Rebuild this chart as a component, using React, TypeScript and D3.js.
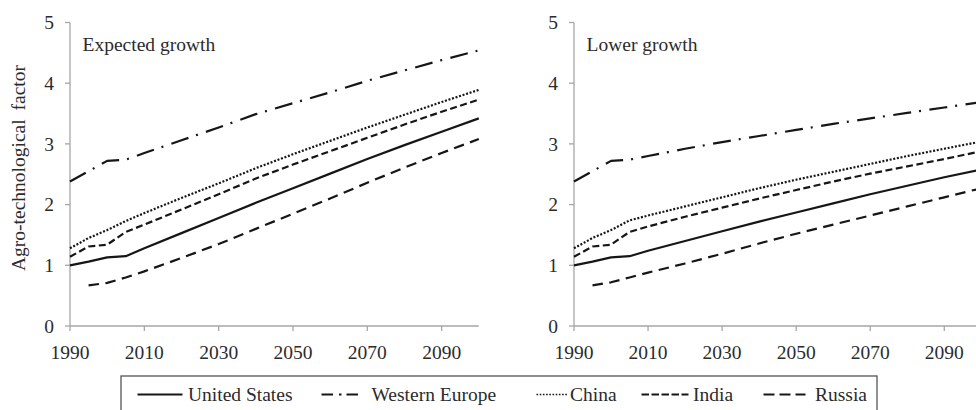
import React from "react";
import * as d3 from "d3";

// Model years shared by every series
const years = [1990, 1995, 2000, 2005, 2010, 2020, 2030, 2040, 2050, 2060, 2070, 2080, 2090, 2100];

const seriesNames = ["United States", "Western Europe", "China", "India", "Russia"];

// Expected growth scenario
const expectedUS = [1.0, 1.06, 1.13, 1.15, 1.28, 1.53, 1.78, 2.03, 2.27, 2.51, 2.75, 2.98, 3.2, 3.42];
const expectedWE = [2.38, 2.55, 2.72, 2.74, 2.85, 3.06, 3.27, 3.49, 3.67, 3.85, 4.04, 4.21, 4.38, 4.54];
const expectedChina = [1.28, 1.45, 1.58, 1.73, 1.86, 2.11, 2.35, 2.6, 2.83, 3.05, 3.27, 3.48, 3.69, 3.89];
const expectedIndia = [1.14, 1.31, 1.34, 1.55, 1.67, 1.92, 2.17, 2.43, 2.66, 2.88, 3.1, 3.32, 3.53, 3.73];
const expectedRussia = [null, 0.67, 0.71, 0.8, 0.9, 1.12, 1.35, 1.6, 1.85, 2.1, 2.36, 2.61, 2.85, 3.08];

// Lower growth scenario
const lowerUS = [1.0, 1.06, 1.13, 1.15, 1.24, 1.4, 1.56, 1.72, 1.87, 2.02, 2.17, 2.31, 2.45, 2.58];
const lowerWE = [2.38, 2.55, 2.72, 2.74, 2.8, 2.92, 3.03, 3.13, 3.23, 3.33, 3.42, 3.51, 3.6, 3.69];
const lowerChina = [1.28, 1.45, 1.58, 1.74, 1.82, 1.97, 2.12, 2.27, 2.41, 2.54, 2.67, 2.8, 2.92, 3.04];
const lowerIndia = [1.14, 1.31, 1.34, 1.55, 1.64, 1.8, 1.95, 2.1, 2.24, 2.38, 2.51, 2.63, 2.75, 2.88];
const lowerRussia = [null, 0.67, 0.72, 0.8, 0.88, 1.03, 1.19, 1.36, 1.52, 1.67, 1.82, 1.97, 2.12, 2.27];

const xTicks = [1990, 2010, 2030, 2050, 2070, 2090];
const yTicks = [0, 1, 2, 3, 4, 5];

const panelTitles = ["Expected growth", "Lower growth"];
const yAxisTitle = "Agro-technological factor";

const panels = [
  { title: panelTitles[0], series: [expectedUS, expectedWE, expectedChina, expectedIndia, expectedRussia], x0: 70, x1: 478.8 },
  { title: panelTitles[1], series: [lowerUS, lowerWE, lowerChina, lowerIndia, lowerRussia], x0: 574, x1: 981.3 },
];

// Stroke patterns for each country, in plot and in legend
const plotDash = ["none", "18,8,2,8.5", "2,1.7", "7,3.5", "10.5,6.5"];
const legendDash = ["none", "11.5,6,2.5,5", "1.6,1.6", "7.5,2.5", "11,5"];

const FONT = "'Liberation Serif', 'Times New Roman', serif";
const AXIS = "#a6a6a6";
const TEXT = "#2b2b2b";
const INK = "#161616";

const yTop = 22.5;
const yBottom = 326;

function Panel({ title, series, x0, x1 }) {
  const x = d3.scaleLinear().domain([1990, 2100]).range([x0, x1]);
  const y = d3.scaleLinear().domain([0, 5]).range([yBottom, yTop]);
  const line = d3
    .line<[number, number | null]>()
    .defined((d) => d[1] != null)
    .x((d) => x(d[0]))
    .y((d) => y(d[1] as number));

  return (
    <g>
      {/* y axis */}
      <line x1={x0} x2={x0} y1={yTop} y2={yBottom} stroke={AXIS} strokeWidth={1.3} />
      {yTicks.map((t) => (
        <g key={t}>
          <line x1={x0 - 5} x2={x0} y1={y(t)} y2={y(t)} stroke={AXIS} strokeWidth={1.3} />
          <text x={x0 - 16} y={y(t)} dy="0.34em" textAnchor="end" fontSize={19.5} fill={TEXT} fontFamily={FONT}>
            {t}
          </text>
        </g>
      ))}
      {/* x axis */}
      <line x1={x0} x2={x1} y1={yBottom} y2={yBottom} stroke={AXIS} strokeWidth={1.3} />
      {xTicks.map((t) => (
        <g key={t}>
          <line x1={x(t)} x2={x(t)} y1={yBottom} y2={yBottom + 5} stroke={AXIS} strokeWidth={1.3} />
          <text x={x(t)} y={358.5} textAnchor="middle" fontSize={19.5} fill={TEXT} fontFamily={FONT}>
            {t}
          </text>
        </g>
      ))}
      {/* series */}
      {series.map((vals, i) => (
        <path
          key={seriesNames[i]}
          d={line(years.map((yr, k) => [yr, vals[k]]) as [number, number | null][]) || ""}
          fill="none"
          stroke={INK}
          strokeWidth={2.2}
          strokeDasharray={plotDash[i]}
          strokeLinejoin="round"
        />
      ))}
      <text x={x0 + 12.5} y={50.5} fontSize={19.5} fill={TEXT} fontFamily={FONT}>
        {title}
      </text>
    </g>
  );
}

// Legend layout: sample start/end and label start for each entry
const legendSampleX = [
  [137.5, 182.5],
  [321.5, 358.5],
  [536.5, 568.5],
  [641.5, 688.5],
  [763.5, 805.5],
];
const legendLabelX = [188, 371.5, 570, 693, 815];

export default function App() {
  const legendY = 394.5;
  return (
    <svg
      width={976}
      height={410}
      viewBox="0 0 976 410"
      style={{ position: "absolute", left: 0, top: 0, background: "#fff" }}
    >
      <rect width={976} height={410} fill="#fff" />
      {panels.map((p) => (
        <Panel key={p.title} {...p} />
      ))}
      <text
        transform={`translate(25,168) rotate(-90)`}
        textAnchor="middle"
        fontSize={19.5}
        fill={TEXT}
        fontFamily={FONT}
        wordSpacing={4}
      >
        {yAxisTitle}
      </text>
      {/* legend */}
      <rect x={121} y={376} width={756} height={60} fill="#fff" stroke="#555" strokeWidth={1.3} />
      {seriesNames.map((name, i) => (
        <g key={name}>
          <line
            x1={legendSampleX[i][0]}
            x2={legendSampleX[i][1]}
            y1={legendY}
            y2={legendY}
            stroke={INK}
            strokeWidth={i === 2 ? 1.6 : 2.2}
            strokeDasharray={legendDash[i]}
          />
          <text x={legendLabelX[i]} y={legendY + 6.5} fontSize={19.5} fill={TEXT} fontFamily={FONT}>
            {name}
          </text>
        </g>
      ))}
    </svg>
  );
}
